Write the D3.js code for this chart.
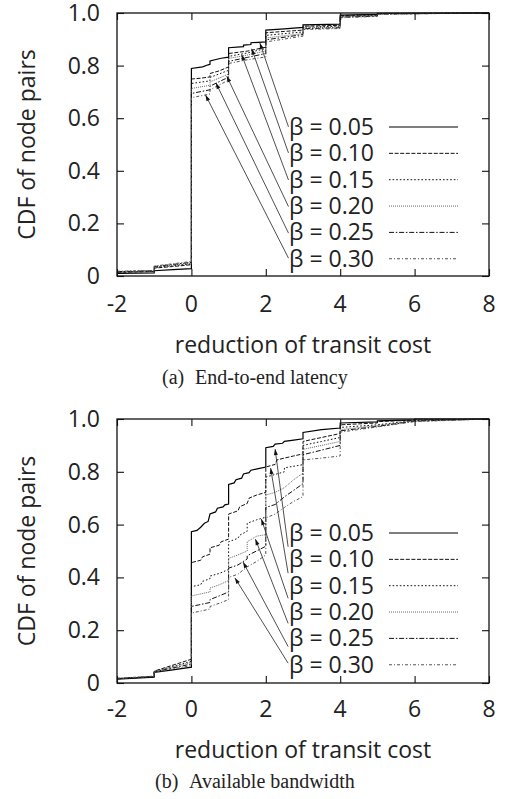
<!DOCTYPE html>
<html>
<head>
<meta charset="utf-8">
<script src="https://cdn.jsdelivr.net/npm/d3@7/dist/d3.min.js"></script>
<style>
  html, body { margin: 0; padding: 0; background: #fff; }
  svg { display: block; }
  text { font-family: "Open Sans", "DejaVu Sans", sans-serif; fill: #222; }
  .cap { font-family: "Liberation Serif", "Times New Roman", serif; }
</style>
</head>
<body>
<script>
// ---------- data ----------
const betaLabels = ["β = 0.05", "β = 0.10", "β = 0.15", "β = 0.20", "β = 0.25", "β = 0.30"];
const xTicks = [-2, 0, 2, 4, 6, 8];
const xTickLabels = ["-2", "0", "2", "4", "6", "8"];
const yTicks = [0, 0.2, 0.4, 0.6, 0.8, 1.0];
const yTickLabels = ["0", "0.2", "0.4", "0.6", "0.8", "1.0"];

// (a) End-to-end latency : [x, CDF]
const lat005 = [[-2,0.010],[-1,0.012],[-1,0.020],[-0.5,0.024],[0,0.028],[0,0.789],[0.3,0.795],[0.45,0.803],[0.5,0.805],[0.5,0.818],[0.8,0.828],[1,0.832],[1,0.868],[1.4,0.872],[1.4,0.878],[1.6,0.880],[1.6,0.887],[2,0.890],[2,0.935],[2.5,0.940],[3,0.945],[3,0.955],[4,0.958],[4,0.992],[5,0.995],[5,0.999],[8,1.0]];
const lat010 = [[-2,0.014],[-1,0.017],[-1,0.030],[-0.5,0.036],[0,0.043],[0,0.749],[0.25,0.752],[0.5,0.757],[0.5,0.770],[0.75,0.780],[1,0.795],[1,0.846],[1.5,0.855],[2,0.870],[2,0.925],[2.5,0.930],[3,0.935],[3,0.950],[4,0.953],[4,0.990],[5,0.993],[5,0.998],[8,1.0]];
const lat015 = [[-2,0.015],[-1,0.018],[-1,0.032],[0,0.046],[0,0.732],[0.5,0.742],[0.5,0.755],[1,0.782],[1,0.835],[1.5,0.848],[2,0.865],[2,0.915],[3,0.928],[3,0.946],[4,0.950],[4,0.988],[5,0.991],[5,0.997],[8,1.0]];
const lat020 = [[-2,0.016],[-1,0.019],[-1,0.034],[0,0.049],[0,0.713],[0.5,0.725],[0.5,0.738],[1,0.768],[1,0.827],[1.5,0.840],[2,0.856],[2,0.905],[3,0.922],[3,0.943],[4,0.947],[4,0.986],[5,0.990],[5,0.996],[8,1.0]];
const lat025 = [[-2,0.017],[-1,0.020],[-1,0.036],[0,0.052],[0,0.694],[0.5,0.708],[0.5,0.722],[1,0.756],[1,0.816],[1.5,0.831],[2,0.846],[2,0.898],[3,0.918],[3,0.940],[4,0.944],[4,0.984],[5,0.988],[5,0.996],[8,1.0]];
const lat030 = [[-2,0.018],[-1,0.021],[-1,0.038],[0,0.055],[0,0.678],[0.5,0.692],[0.5,0.708],[1,0.745],[1,0.808],[1.5,0.822],[2,0.833],[2,0.890],[3,0.912],[3,0.937],[4,0.941],[4,0.982],[5,0.987],[5,0.995],[8,1.0]];
const latArrowFrom = [[2.61,0.567],[2.61,0.468],[2.61,0.365],[2.61,0.264],[2.61,0.163],[2.61,0.068]];
const latArrowTo = [[1.84,0.886],[1.62,0.864],[1.35,0.842],[0.95,0.760],[0.66,0.734],[0.38,0.688]];

// (b) Available bandwidth : [x, CDF]
const bw005 = [[-2,0.015],[-1,0.022],[-1,0.040],[-0.5,0.050],[0,0.060],[0,0.573],[0.15,0.578],[0.25,0.590],[0.35,0.605],[0.45,0.612],[0.5,0.640],[0.65,0.648],[0.7,0.662],[0.85,0.667],[0.9,0.675],[1,0.678],[1,0.752],[1.15,0.758],[1.2,0.770],[1.35,0.776],[1.4,0.792],[1.55,0.797],[1.6,0.806],[1.8,0.812],[2,0.818],[2,0.891],[2.2,0.896],[2.25,0.905],[2.45,0.908],[2.5,0.915],[2.75,0.920],[3,0.925],[3,0.949],[3.5,0.960],[4,0.966],[4,0.985],[5,0.989],[5,0.993],[6,0.997],[6,1.0],[8,1.0]];
const bw010 = [[-2,0.016],[-1,0.024],[-1,0.045],[0,0.090],[0,0.456],[0.25,0.465],[0.3,0.478],[0.5,0.488],[0.5,0.512],[0.75,0.522],[0.8,0.535],[1,0.545],[1,0.640],[1.25,0.652],[1.3,0.668],[1.5,0.680],[1.55,0.700],[1.75,0.712],[2,0.722],[2,0.818],[2.25,0.828],[2.3,0.845],[2.5,0.852],[2.75,0.860],[3,0.868],[3,0.915],[3.5,0.930],[4,0.945],[4,0.978],[5,0.985],[5,0.990],[6,0.996],[8,1.0]];
const bw015 = [[-2,0.016],[-1,0.024],[-1,0.044],[0,0.082],[0,0.365],[0.25,0.372],[0.3,0.385],[0.5,0.395],[0.5,0.405],[0.75,0.415],[1,0.430],[1,0.535],[1.25,0.548],[1.3,0.560],[1.5,0.575],[1.5,0.605],[1.75,0.618],[2,0.628],[2,0.780],[2.25,0.790],[2.5,0.800],[2.5,0.815],[3,0.827],[3,0.900],[3.5,0.915],[4,0.930],[4,0.968],[5,0.978],[6,0.994],[8,1.0]];
const bw020 = [[-2,0.017],[-1,0.025],[-1,0.043],[0,0.078],[0,0.330],[0.5,0.345],[0.5,0.360],[0.75,0.372],[1,0.388],[1,0.472],[1.25,0.485],[1.5,0.500],[1.5,0.535],[1.75,0.556],[2,0.562],[2,0.712],[2.25,0.722],[2.5,0.740],[2.75,0.770],[3,0.795],[3,0.885],[3.5,0.900],[4,0.915],[4,0.960],[5,0.975],[6,0.993],[8,1.0]];
const bw025 = [[-2,0.017],[-1,0.025],[-1,0.042],[0,0.072],[0,0.290],[0.5,0.305],[0.5,0.316],[0.75,0.330],[1,0.345],[1,0.435],[1.25,0.447],[1.5,0.470],[1.5,0.482],[1.75,0.500],[2,0.518],[2,0.665],[2.25,0.676],[2.5,0.705],[2.75,0.730],[3,0.755],[3,0.865],[3.5,0.882],[4,0.900],[4,0.955],[5,0.972],[6,0.992],[8,1.0]];
const bw030 = [[-2,0.018],[-1,0.026],[-1,0.041],[0,0.066],[0,0.265],[0.5,0.280],[0.5,0.290],[0.75,0.302],[1,0.316],[1,0.400],[1.25,0.412],[1.5,0.440],[1.75,0.460],[2,0.485],[2,0.625],[2.25,0.640],[2.5,0.665],[2.75,0.688],[3,0.706],[3,0.845],[3.5,0.852],[4,0.860],[4,0.950],[5,0.970],[6,0.990],[8,1.0]];
const bwArrowFrom = [[2.6,0.516],[2.6,0.416],[2.6,0.321],[2.6,0.226],[2.6,0.138],[2.6,0.075]];
const bwArrowTo = [[2.25,0.886],[2.13,0.814],[1.88,0.621],[1.72,0.545],[1.39,0.458],[1.17,0.398]];

// ---------- styles ----------
const lineStyles = [
  { dash: null,        color: "#000", width: 1.2 },
  { dash: "4,1.6",     color: "#111", width: 1.0 },
  { dash: "1.6,2",     color: "#111", width: 1.0 },
  { dash: "1,1",       color: "#666", width: 1.0 },
  { dash: "5,1.8,1.5,1.8", color: "#111", width: 1.0 },
  { dash: "3,2,1,2",   color: "#555", width: 1.0 }
];

const panels = [
  { top: 13, bottom: 276, series: [lat005, lat010, lat015, lat020, lat025, lat030],
    from: latArrowFrom, to: latArrowTo, capA: "(a)", capB: "End-to-end latency",
    capAX: 162, capBX: 195, tickDy: 35.7, labelDy: 76.7, capDy: 108 },
  { top: 419, bottom: 683, series: [bw005, bw010, bw015, bw020, bw025, bw030],
    from: bwArrowFrom, to: bwArrowTo, capA: "(b)", capB: "Available bandwidth",
    capAX: 155, capBX: 189, tickDy: 33.7, labelDy: 75, capDy: 105 }
];

const W = 527, H = 799, left = 117, right = 489;
const svg = d3.select("body").append("svg").attr("width", W).attr("height", H);

svg.append("defs").append("marker")
  .attr("id", "ah").attr("viewBox", "-7 -3 8 6")
  .attr("refX", 0).attr("refY", 0)
  .attr("markerWidth", 8).attr("markerHeight", 6)
  .attr("markerUnits", "userSpaceOnUse").attr("orient", "auto")
  .append("path").attr("d", "M0,0 L-6,-2 L-6,2 Z").attr("fill", "#111");

panels.forEach((p, pi) => {
  const x = d3.scaleLinear().domain([-2, 8]).range([left, right]);
  const y = d3.scaleLinear().domain([0, 1]).range([p.bottom, p.top]);
  const g = svg.append("g");
  const cid = "clip" + pi;
  g.append("clipPath").attr("id", cid).append("rect")
    .attr("x", left).attr("y", p.top - 1).attr("width", right - left).attr("height", p.bottom - p.top + 1);

  // curves
  const line = d3.line().x(d => x(d[0])).y(d => y(d[1]));
  p.series.forEach((s, i) => {
    const st = lineStyles[i];
    g.append("path").attr("d", line(s)).attr("fill", "none")
      .attr("stroke", st.color).attr("stroke-width", st.width)
      .attr("stroke-dasharray", st.dash).attr("clip-path", `url(#${cid})`);
  });

  // arrows
  p.from.forEach((f, i) => {
    const t = p.to[i];
    g.append("line")
      .attr("x1", x(f[0])).attr("y1", y(f[1]))
      .attr("x2", x(t[0])).attr("y2", y(t[1]))
      .attr("stroke", "#222").attr("stroke-width", 0.8)
      .attr("marker-end", "url(#ah)");
  });

  // legend (key)
  betaLabels.forEach((lab, i) => {
    const cy = p.top + 114 + i * 26.35;
    g.append("text").attr("x", 289).attr("y", cy + 8).attr("font-size", 23).text(lab);
    const st = lineStyles[i];
    g.append("line").attr("x1", 389).attr("x2", 458).attr("y1", cy).attr("y2", cy)
      .attr("stroke", st.color).attr("stroke-width", st.width).attr("stroke-dasharray", st.dash);
  });

  // frame + ticks (inward, mirrored)
  g.append("rect").attr("x", left).attr("y", p.top).attr("width", right - left).attr("height", p.bottom - p.top)
    .attr("fill", "none").attr("stroke", "#111").attr("stroke-width", 1.3);
  const tl = 7;
  const axB = d3.axisBottom(x).tickValues(xTicks).tickSize(-tl).tickFormat("");
  const axT = d3.axisTop(x).tickValues(xTicks).tickSize(-tl).tickFormat("");
  const axL = d3.axisLeft(y).tickValues(yTicks).tickSize(-tl).tickFormat("");
  const axR = d3.axisRight(y).tickValues(yTicks).tickSize(-tl).tickFormat("");
  [[axB, `translate(0,${p.bottom})`], [axT, `translate(0,${p.top})`], [axL, `translate(${left},0)`], [axR, `translate(${right},0)`]]
    .forEach(([ax, tr]) => {
      const a = g.append("g").attr("transform", tr).call(ax);
      a.select(".domain").remove();
      a.selectAll("line").attr("stroke", "#111").attr("stroke-width", 1.1);
    });

  // tick labels
  xTicks.forEach((v, i) => {
    g.append("text").attr("x", x(v)).attr("y", p.bottom + p.tickDy)
      .attr("text-anchor", "middle").attr("font-size", 23).text(xTickLabels[i]);
  });
  yTicks.forEach((v, i) => {
    g.append("text").attr("x", 100).attr("y", y(v) + 8)
      .attr("text-anchor", "end").attr("font-size", 23).text(yTickLabels[i]);
  });

  // axis titles
  g.append("text").attr("transform", `translate(35,${(p.top + p.bottom) / 2}) rotate(-90)`)
    .attr("text-anchor", "middle").attr("font-size", 23).text("CDF of node pairs");
  g.append("text").attr("x", (left + right) / 2 + 0).attr("y", p.bottom + p.labelDy)
    .attr("text-anchor", "middle").attr("font-size", 23).text("reduction of transit cost");

  // caption
  g.append("text").attr("class", "cap").attr("x", p.capAX).attr("y", p.bottom + p.capDy)
    .attr("font-size", 20).text(p.capA);
  g.append("text").attr("class", "cap").attr("x", p.capBX).attr("y", p.bottom + p.capDy)
    .attr("font-size", 20).text(p.capB);
});
</script>
</body>
</html>
